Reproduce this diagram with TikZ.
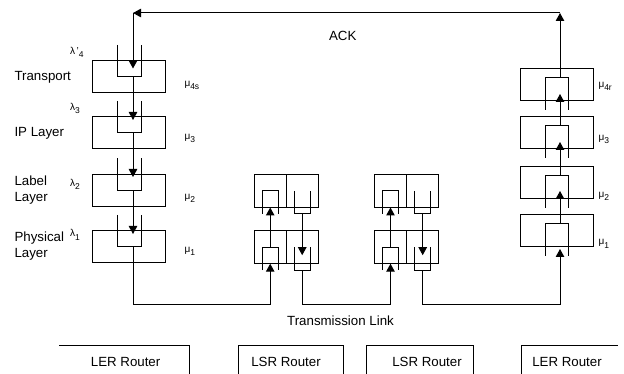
\documentclass[tikz,border=0pt]{standalone}
\usepackage{fontspec}
\setmainfont{Liberation Sans}
\usetikzlibrary{arrows.meta,calc}
\newcommand\gsub[2]{#1\raisebox{-3pt}{\fontsize{8.5pt}{8.5pt}\selectfont #2}}
\begin{document}
\begin{tikzpicture}[x=1pt,y=-1pt,line width=1pt]
\tikzset{
  layer/.style={draw, minimum width=73pt, minimum height=32pt, inner sep=0pt, outer sep=0pt},
  cell/.style={draw, minimum width=32pt, minimum height=33pt, inner sep=0pt, outer sep=0pt},
  lbl/.style={font=\fontsize{13.3pt}{16pt}\selectfont, inner sep=0pt, align=left},
  gk/.style={font=\fontsize{10pt}{10pt}\selectfont, inner sep=0pt, anchor=base west},
  flow/.style={-{Triangle[width=8.5pt,length=8pt]}},
  capqueue/.pic={\draw (-8,23) -- (-8,0) -- (8,0) -- (8,23);},
  cupqueue/.pic={\draw (-8,0) -- (-8,23) -- (8,23) -- (8,0);}
}
\useasboundingbox (0,0) rectangle (624,374);

% ---- left (sender LER) column
\node[layer] (T)  at (128.5,77) {};
\node[layer] (IP) at (128.5,133) {};
\node[layer] (LB) at (128.5,190.5) {};
\node[layer] (PH) at (128.5,247) {};
\foreach \t in {61,117,174.5,231}
  \draw (117,\t-16) -- (117,\t+16) -- (141,\t+16) -- (141,\t-16);

% ---- right (receiver LER) column
\node[layer] (RT)  at (556.5,85) {};
\node[layer] (RIP) at (556.5,133) {};
\node[layer] (RLB) at (556.5,183) {};
\node[layer] (RPH) at (556.5,231) {};
\foreach \t/\b in {69/101,117/149,167/199,215/247}
  \draw (545,\b+9) -- (545,\t+9) -- (568,\t+9) -- (568,\b+9);

% ---- LSR cells
\node[cell] (s1ul) at (270.2,191) {};
\node[cell] (s1ur) at (302.2,191) {};
\node[cell] (s1ll) at (270.2,247.2) {};
\node[cell] (s1lr) at (302.2,247.2) {};
\node[cell] (s2ul) at (390.5,191) {};
\node[cell] (s2ur) at (422.7,191) {};
\node[cell] (s2ll) at (390.5,247.2) {};
\node[cell] (s2lr) at (422.7,247.2) {};
\foreach \c in {s1ul,s1ll,s2ul,s2ll} \pic at (\c.center) {capqueue};
\foreach \c in {s1ur,s1lr,s2ur,s2lr} \pic at (\c.center) {cupqueue};

% ---- named route points
\coordinate (ackL) at (133,13);
\coordinate (ackR) at (560,13);
\coordinate (qT) at (133,77);
\coordinate (qIP) at (133,133);
\coordinate (qLB) at (133,190.5);
\coordinate (qPH) at (133,247);
\coordinate (k1) at (133,304);
\coordinate (k2) at (302.2,304);
\coordinate (k3) at (422.7,304);
\coordinate (k4) at (560,304);

% ---- flows, left column (downwards)
\draw[flow] (ackL) -- (133,68.5);
\draw[flow] (qT) -- (133,120);
\draw[flow] (qIP) -- (133,177);
\draw[flow] (qLB) -- (133,234);
\draw[flow] (qPH) -- (k1) -| (s1ll.south);

% ---- LSR 1
\draw[flow] (s1ll.center) -- (s1ul.south);
\draw[flow] ($(s1ur.south)+(0,6.5)$) -- ($(s1lr.center)+(0,8)$);
\draw[flow] ($(s1lr.south)+(0,6.5)$) -- (k2) -| (s2ll.south);

% ---- LSR 2
\draw[flow] (s2ll.center) -- (s2ul.south);
\draw[flow] ($(s2ur.south)+(0,6.5)$) -- ($(s2lr.center)+(0,8)$);
\draw[flow] ($(s2lr.south)+(0,6.5)$) -- (k3) -- (k4) -- (560,249);

% ---- right column (upwards)
\draw[flow] (560,224) -- (560,191);
\draw[flow] (560,176) -- (560,142);
\draw[flow] (560,126) -- (560,94);
\draw[flow] (560,78) -- (ackR);
\draw[flow] (ackR) -- (ackL);

% ---- texts
\node[lbl, anchor=base west] (tT) at (14,80.5) {Transport};
\node[lbl, anchor=base west] (tIP) at (14,137) {IP Layer};
\node[lbl, anchor=north west] (tLB) at (14,175.5) {Label\\Layer};
\node[lbl, anchor=north west] (tPH) at (14,231.5) {Physical\\Layer};
\node[lbl, anchor=base] (tACK) at (342.7,40.7) {ACK};
\node[lbl, anchor=base] (tTL) at (340.5,325.7) {Transmission Link};

\node[gk] (l4) at (69.5,55) {\gsub{λ\,'}{4}};
\node[gk] (l3) at (69.5,111) {\gsub{λ}{3}};
\node[gk] (l2) at (69.5,187) {\gsub{λ}{2}};
\node[gk] (l1) at (69.5,237) {\gsub{λ}{1}};

\node[gk] (m4s) at (184,86.5) {\gsub{μ}{4s}};
\node[gk] (m3) at (184,140) {\gsub{μ}{3}};
\node[gk] (m2) at (184,199.5) {\gsub{μ}{2}};
\node[gk] (m1) at (184,253) {\gsub{μ}{1}};
\node[gk] (r4r) at (598,88) {\gsub{μ}{4r}};
\node[gk] (r3) at (598,141) {\gsub{μ}{3}};
\node[gk] (r2) at (598,198) {\gsub{μ}{2}};
\node[gk] (r1) at (598,245) {\gsub{μ}{1}};

% ---- router frames
\draw (59,345) -- (189,345) -- (189,374);
\draw (238,374) -- (238,345) -- (343,345) -- (343,374);
\draw (366,374) -- (366,345) -- (473,345) -- (473,374);
\draw (521,374) -- (521,345) -- (618,345);
\node[lbl, anchor=base] (r1t) at (125.6,366) {LER Router};
\node[lbl, anchor=base] (r2t) at (286,366) {LSR Router};
\node[lbl, anchor=base] (r3t) at (427,366) {LSR Router};
\node[lbl, anchor=base] (r4t) at (567,366) {LER Router};
\end{tikzpicture}
\end{document}
